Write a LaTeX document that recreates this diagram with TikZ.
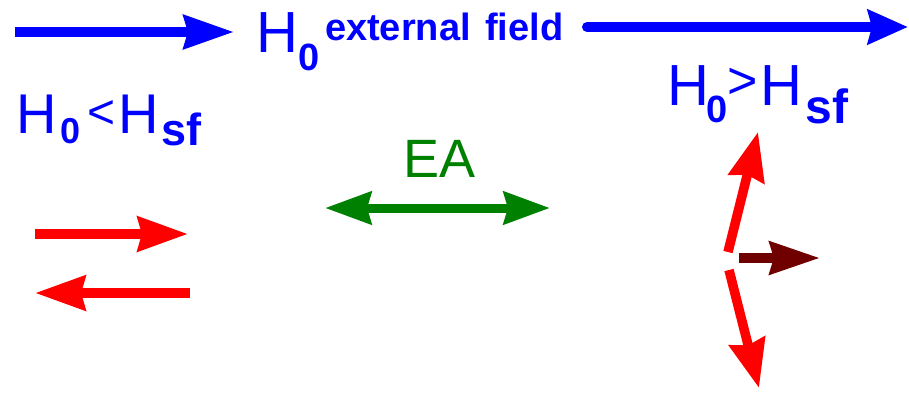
\documentclass[tikz,border=0pt]{standalone}
\usepackage{fontspec}
\setmainfont{Liberation Sans}
\usetikzlibrary{arrows.meta}
\definecolor{fieldblue}{RGB}{0,0,255}
\definecolor{eagreen}{RGB}{0,128,0}
\definecolor{spinred}{RGB}{255,0,0}
\definecolor{netbrown}{RGB}{112,0,0}
\newcommand{\fs}[1]{\fontsize{#1}{#1}\selectfont}
\tikzset{
  txt/.style={inner sep=0pt, outer sep=0pt, anchor=base west},
  bigarrow/.style={line width=10pt, -{Stealth[length=50pt,width=33pt,inset=4pt]}},
  bigarrowb/.style={line width=9pt, {Stealth[length=46pt,width=32pt,inset=4pt]}-{Stealth[length=46pt,width=32pt,inset=4pt]}},
}
\begin{document}
\begin{tikzpicture}[x=1pt,y=-1pt]
\useasboundingbox (0,0) rectangle (909,394);
% top field arrows
\coordinate (b1s) at (15,32);
\coordinate (b1e) at (234,32);
\coordinate (b2s) at (587,27);
\coordinate (b2e) at (908,27);
\draw[bigarrow, fieldblue] (b1s) -- (b1e);
\draw[line width=10pt, fieldblue, line cap=round, -{Stealth[length=40pt,width=34pt,inset=4pt]}] (b2s) -- (b2e);
% title text
\node[txt, text=fieldblue] (tH) at (256,52) {\fs{58}H};
\node[txt, text=fieldblue] (t0) at (298.5,70) {\fs{38}\bfseries 0};
\node[txt, text=fieldblue] (tef) at (325,40) {\fs{38}\bfseries external\hspace{4pt} field};
% left label H0<Hsf
\node[txt, text=fieldblue] (lH) at (16.5,133) {\fs{56}H};
\node[txt, text=fieldblue] (l0) at (60.5,143) {\fs{36}\bfseries 0};
\node[txt, text=fieldblue] (llt) at (87,128) {\fs{48}<};
\node[txt, text=fieldblue] (lH2) at (118.5,133) {\fs{56}H};
\node[txt, text=fieldblue] (lsf) at (161,145) {\fs{45}\bfseries sf};
% right label H0>Hsf
\node[txt, text=fieldblue] (rH) at (667.5,105) {\fs{58}H};
\node[txt, text=fieldblue] (r0) at (706.5,122) {\fs{38}\bfseries 0};
\node[txt, text=fieldblue] (rgt) at (727,98.7) {\fs{52}>};
\node[txt, text=fieldblue] (rH2) at (760.5,105) {\fs{58}H};
\node[txt, text=fieldblue] (rsf) at (805.5,123) {\fs{48}\bfseries sf};
% EA
\node[txt, text=eagreen] (ea) at (403.7,177) {\fs{54}EA};
\coordinate (g1) at (325,208);
\coordinate (g2) at (550,208);
\draw[bigarrowb, eagreen] (g1) -- (g2);
% antiparallel spins
\coordinate (r1s) at (35,234);
\coordinate (r1e) at (188,234);
\coordinate (r2s) at (190,293);
\coordinate (r2e) at (35,293);
\draw[line width=10pt, spinred, -{Stealth[length=50pt,width=34pt,inset=4pt]}] (r1s) -- (r1e);
\draw[line width=10pt, spinred, -{Stealth[length=50pt,width=34pt,inset=4pt]}] (r2s) -- (r2e);
% spin-flop
\coordinate (u1s) at (728,252);
\coordinate (u1e) at (758,132);
\coordinate (d1s) at (729,270);
\coordinate (d1e) at (759,388);
\draw[line width=9.5pt, spinred, -{Stealth[length=48pt,width=36pt,inset=4pt]}] (u1s) -- (u1e);
\draw[line width=9.5pt, spinred, -{Stealth[length=48pt,width=36pt,inset=4pt]}] (d1s) -- (d1e);
\coordinate (ns) at (739,258);
\coordinate (ne) at (820,258);
\draw[line width=10pt, netbrown, -{Stealth[length=50pt,width=32pt,inset=4pt]}] (ns) -- (ne);
\end{tikzpicture}
\end{document}
